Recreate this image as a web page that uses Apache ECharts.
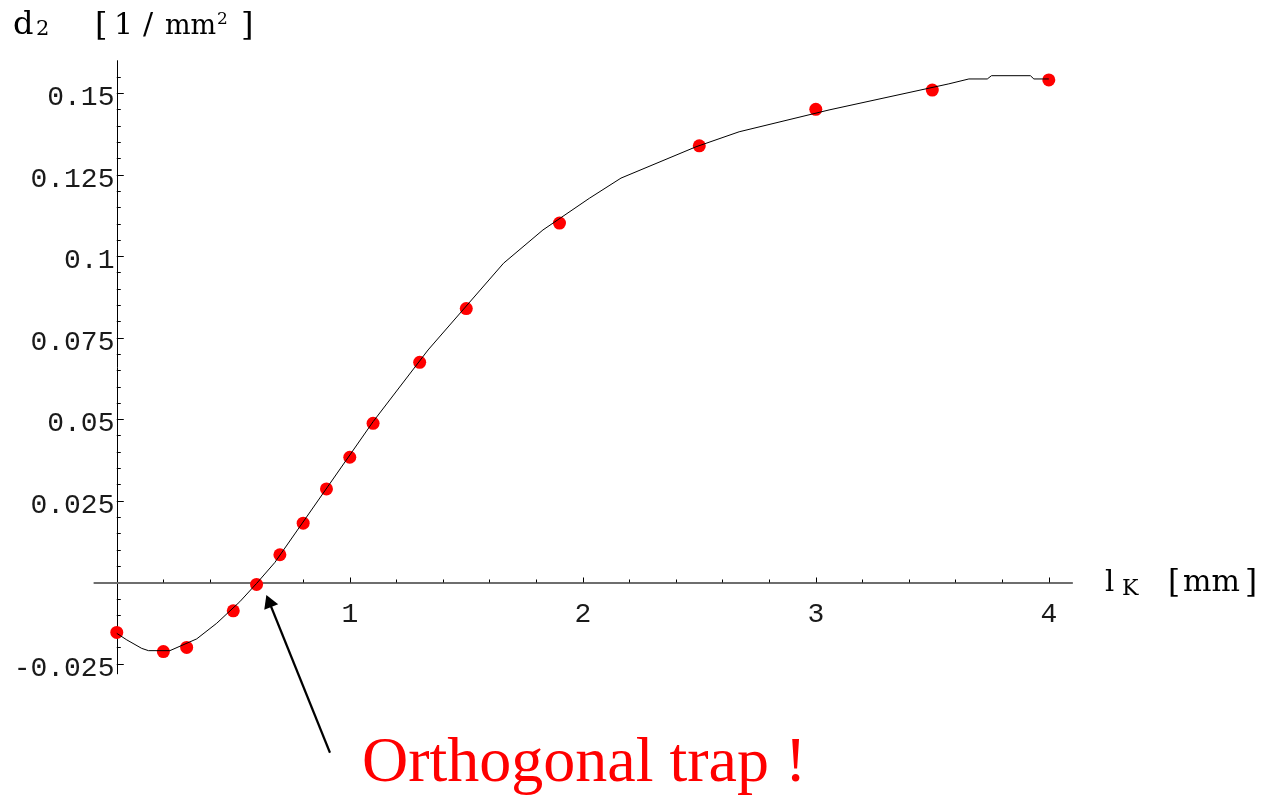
<!DOCTYPE html>
<html>
<head>
<meta charset="utf-8">
<script src="https://cdn.jsdelivr.net/npm/echarts@6/dist/echarts.min.js"></script>
<style>
  html, body { margin: 0; padding: 0; background: #ffffff; }
  #chart { width: 1262px; height: 798px; }
</style>
</head>
<body>
<div id="chart"></div>
<script>
// Measured points: length l_K [mm] against coefficient d2 [1/mm^2]
const dotX = [0, 0.2, 0.3, 0.5, 0.6, 0.7, 0.8, 0.9, 1.0, 1.1, 1.3, 1.5, 1.9, 2.5, 3.0, 3.5, 4.0];
const dotY = [-0.0153, -0.0212, -0.0199, -0.0087, -0.0006, 0.0085, 0.0182, 0.0287, 0.0384, 0.0488,
              0.0675, 0.0840, 0.1102, 0.1339, 0.1451, 0.1510, 0.1541];

// Interpolated curve through the measurements
const curveX = [0, 0.043, 0.107, 0.136, 0.228, 0.343, 0.429, 0.528, 0.6, 0.678, 1.1, 1.336, 1.66, 1.829,
                2.028, 2.164, 2.486, 2.671, 3.057, 3.571, 3.657, 3.736, 3.754, 3.921, 3.936, 4.0];
const curveY = [-0.0156, -0.0176, -0.0202, -0.0209, -0.0209, -0.0173, -0.0125, -0.0059, -0.0003, 0.0061,
                0.0493, 0.0713, 0.0979, 0.1081, 0.1178, 0.1240, 0.1336, 0.1382, 0.1449, 0.1529,
                0.1544, 0.1544, 0.1554, 0.1554, 0.1544, 0.1544];

// Axis ranges and ticks
const xMin = -0.096, xMax = 4.1;
const yMin = -0.028, yMax = 0.16;
const xMajor = [1, 2, 3, 4];
const xMinor = [0.2, 0.4, 0.6, 0.8, 1.2, 1.4, 1.6, 1.8, 2.2, 2.4, 2.6, 2.8, 3.2, 3.4, 3.6, 3.8];
const yMajor = [-0.025, 0.025, 0.05, 0.075, 0.1, 0.125, 0.15];
const yMinor = [-0.02, -0.015, -0.01, -0.005, 0.005, 0.01, 0.015, 0.02, 0.03, 0.035, 0.04, 0.045,
                0.055, 0.06, 0.065, 0.07, 0.08, 0.085, 0.09, 0.095, 0.105, 0.11, 0.115, 0.12,
                0.13, 0.135, 0.14, 0.145, 0.155];

// Annotation arrow (data space) and its caption
const trapTip = [0.642, -0.0038];
const trapTail = [0.915, -0.0522];
const trapText = 'Orthogonal trap !';

const MONO = '"Liberation Mono", "DejaVu Sans Mono", monospace';
const SERIF = '"DejaVu Serif", serif';
const CAPTION = '"Liberation Serif", "Times New Roman", serif';
const INK = '#1a1a1a';

// Gaps between the zero-crossing axis lines and their tick labels
const X_LABEL_GAP = 17.8;
const Y_LABEL_GAP = 2.3;

const chart = echarts.init(document.getElementById('chart'), null, { renderer: 'canvas' });

const fmt = v => String(v);
const grid = { left: 94.4, top: 60.7, width: 977.7, height: 613.1 };

const option = {
  animation: false,
  backgroundColor: '#ffffff',
  grid: Object.assign({ containLabel: false, outerBoundsMode: 'none' }, grid),
  xAxis: [
    {
      type: 'value', min: xMin, max: xMax, position: 'bottom',
      splitLine: { show: false },
      axisLine: { show: true, onZero: true, onZeroAxisIndex: 0, lineStyle: { color: '#6e6e6e', width: 2 } },
      axisTick: { show: true, inside: true, length: 5, customValues: xMajor, lineStyle: { color: '#000', width: 1 } },
      axisLabel: { customValues: xMajor, formatter: fmt, fontFamily: MONO, fontSize: 28, color: INK, margin: 20 }
    },
    {
      type: 'value', min: xMin, max: xMax, position: 'bottom',
      splitLine: { show: false },
      axisLine: { show: true, onZero: true, onZeroAxisIndex: 0, lineStyle: { opacity: 0 } },
      axisTick: { show: true, inside: true, length: 3, customValues: xMinor, lineStyle: { color: '#000', width: 1 } },
      axisLabel: { show: false }
    }
  ],
  yAxis: [
    {
      type: 'value', min: yMin, max: yMax, position: 'left',
      splitLine: { show: false },
      axisLine: { show: true, onZero: true, onZeroAxisIndex: 0, lineStyle: { color: '#000', width: 1 } },
      axisTick: { show: true, inside: true, length: 7, customValues: yMajor, lineStyle: { color: '#000', width: 1 } },
      // short line box, hung from the tick, so the digits sit just below it
      axisLabel: { customValues: yMajor, formatter: fmt, fontFamily: MONO, fontSize: 28, color: INK,
                   margin: 1, verticalAlign: 'top', lineHeight: 9 }
    },
    {
      type: 'value', min: yMin, max: yMax, position: 'left',
      splitLine: { show: false },
      axisLine: { show: true, onZero: true, onZeroAxisIndex: 0, lineStyle: { opacity: 0 } },
      axisTick: { show: true, inside: true, length: 4, customValues: yMinor, lineStyle: { color: '#000', width: 1 } },
      axisLabel: { show: false }
    }
  ],
  series: [
    {
      name: 'measured',
      type: 'scatter',
      xAxisIndex: 0, yAxisIndex: 0,
      data: dotX.map((x, i) => [x, dotY[i]]),
      symbol: 'circle',
      symbolSize: 13,
      itemStyle: { color: '#ff0000', opacity: 1 },
      z: 3
    },
    {
      name: 'curve',
      type: 'line',
      xAxisIndex: 0, yAxisIndex: 0,
      data: curveX.map((x, i) => [x, curveY[i]]),
      showSymbol: false,
      symbol: 'none',
      smooth: false,
      lineStyle: { color: '#000000', width: 1 },
      z: 4
    }
  ]
};

chart.setOption(option);

// Tick labels stay on the grid edge; pull them onto the axes that cross at zero
const origin = chart.convertToPixel({ gridIndex: 0 }, [0, 0]);
const xLabelMargin = X_LABEL_GAP - (grid.top + grid.height - origin[1]);
const yLabelMargin = Y_LABEL_GAP - (origin[0] - grid.left);

// Text placed by its baseline: canvas "middle" sits about a third of the size above it
function label(text, x, baseline, size, family, color) {
  return {
    type: 'text', x: x, y: baseline - 0.33 * size, z: 10, silent: true,
    style: { text: text, fontFamily: family, fontSize: size, fill: color || '#000',
             align: 'left', verticalAlign: 'middle' }
  };
}

// Arrow from the caption to the zero crossing
const tip = chart.convertToPixel({ gridIndex: 0 }, trapTip);
const tail = chart.convertToPixel({ gridIndex: 0 }, trapTail);
const dx = tip[0] - tail[0], dy = tip[1] - tail[1];
const len = Math.hypot(dx, dy);
const ux = dx / len, uy = dy / len;
const headLen = 13, headHalf = 7.5;
const base = [tip[0] - ux * headLen, tip[1] - uy * headLen];

chart.setOption({
  xAxis: [{ axisLabel: { margin: xLabelMargin } }, {}],
  yAxis: [{ axisLabel: { margin: yLabelMargin } }, {}],
  graphic: [
    // vertical axis title: d2 [1/mm^2]
    label('d', 13, 36, 32, SERIF),
    label('2', 36, 36, 21, SERIF),
    label('[', 95, 37, 32, SERIF),
    label('1', 114, 36, 30, SERIF),
    label('/', 143, 36, 30, SERIF),
    label('mm', 165, 36, 27, SERIF),
    label('2', 217, 25, 17, SERIF),
    label(']', 241, 37, 32, SERIF),
    // horizontal axis title: l_K [mm]
    label('l', 1105, 593, 29, SERIF),
    label('K', 1122, 597, 22, SERIF),
    label('[', 1168, 594, 31, SERIF),
    label('mm', 1183, 593, 30, SERIF),
    label(']', 1245, 594, 31, SERIF),
    // caption
    label(trapText, 362, 785, 64, CAPTION, '#ff0000'),
    {
      type: 'line', z: 10, silent: true,
      shape: { x1: tail[0], y1: tail[1], x2: base[0] + ux, y2: base[1] + uy },
      style: { stroke: '#000', lineWidth: 2.2 }
    },
    {
      type: 'polygon', z: 10, silent: true,
      shape: { points: [
        tip,
        [base[0] - uy * headHalf, base[1] + ux * headHalf],
        [base[0] + uy * headHalf, base[1] - ux * headHalf]
      ] },
      style: { fill: '#000' }
    }
  ]
});
</script>
</body>
</html>
